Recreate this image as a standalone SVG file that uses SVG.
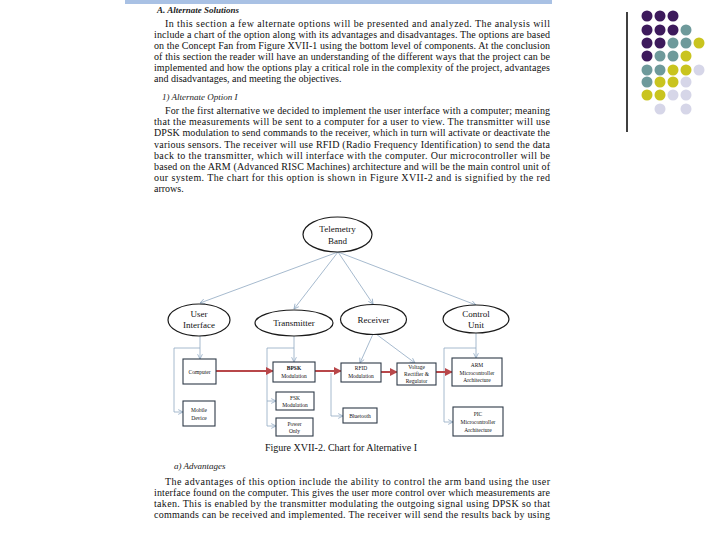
<svg xmlns="http://www.w3.org/2000/svg" width="720" height="540" viewBox="0 0 720 540">
<style>
.p{font-family:"Liberation Serif",serif;font-size:10px;fill:#111}
.h{font-family:"Liberation Serif",serif;font-size:9px;font-style:italic;fill:#222}
.el{fill:#fff;stroke:#1a1a1a;stroke-width:1.2}
.et{font-family:"Liberation Serif",serif;font-size:9px;fill:#111;text-anchor:middle}
.bx{fill:#fff;stroke:#2e3a48;stroke-width:1.1}
.bt{font-family:"Liberation Serif",serif;font-size:5.5px;fill:#111;text-anchor:middle}
.cn{fill:none;stroke:#8fa8c2;stroke-width:0.8}
.rd{fill:none;stroke:#b8474a;stroke-width:2}
</style>
<defs>
<marker id="ah" viewBox="0 0 10 10" refX="9" refY="5" markerWidth="6" markerHeight="6" orient="auto" markerUnits="userSpaceOnUse"><path d="M1,1 L9,5 L1,9" fill="none" stroke="#8fa8c2" stroke-width="1.3"/></marker>
<marker id="ra" viewBox="0 0 10 10" refX="9" refY="5" markerWidth="4" markerHeight="4" orient="auto"><path d="M0,0 L10,5 L0,10 z" fill="#b8474a"/></marker>
</defs>
<rect x="125" y="0" width="427" height="4" fill="#a9c1e4"/>
<g id="text">
<text class="h" x="157" y="13" font-weight="bold">A. Alternate Solutions</text>
<text class="p" x="165" y="26.5" textLength="385" lengthAdjust="spacing">In this section a few alternate options will be presented and analyzed. The analysis will</text>
<text class="p" x="154" y="37.6" textLength="396" lengthAdjust="spacing">include a chart of the option along with its advantages and disadvantages. The options are based</text>
<text class="p" x="154" y="48.7" textLength="396" lengthAdjust="spacing">on the Concept Fan from Figure XVII-1 using the bottom level of components. At the conclusion</text>
<text class="p" x="154" y="59.8" textLength="396" lengthAdjust="spacing">of this section the reader will have an understanding of the different ways that the project can be</text>
<text class="p" x="154" y="70.9" textLength="396" lengthAdjust="spacing">implemented and how the options play a critical role in the complexity of the project, advantages</text>
<text class="p" x="154" y="82">and disadvantages,  and meeting the objectives.</text>
<text class="h" x="162" y="100">1)  Alternate Option I</text>
<text class="p" x="165" y="114" textLength="385" lengthAdjust="spacing">For the first alternative we decided to implement the user interface with a computer; meaning</text>
<text class="p" x="154" y="125.2" textLength="396" lengthAdjust="spacing">that the measurements will be sent to a computer for a user to view. The transmitter will use</text>
<text class="p" x="154" y="136.4" textLength="396" lengthAdjust="spacing">DPSK modulation to send commands to the receiver, which in turn will activate or deactivate the</text>
<text class="p" x="154" y="147.6" textLength="396" lengthAdjust="spacing">various sensors. The receiver will use RFID (Radio Frequency Identification) to send the data</text>
<text class="p" x="154" y="158.8" textLength="396" lengthAdjust="spacing">back to the transmitter, which will interface with the computer. Our microcontroller will be</text>
<text class="p" x="154" y="170" textLength="396" lengthAdjust="spacing">based on the ARM (Advanced RISC Machines) architecture and will be the main control unit of</text>
<text class="p" x="154" y="181.2" textLength="396" lengthAdjust="spacing">our system. The chart for this option is shown in Figure XVII-2 and is signified by the red</text>
<text class="p" x="154" y="192.4">arrows.</text>
<text class="p" x="341" y="451" text-anchor="middle" font-size="8.5">Figure XVII-2.  Chart for Alternative I</text>
<text class="h" x="174" y="469" font-size="8.5">a)  Advantages</text>
<text class="p" x="165" y="485" textLength="385" lengthAdjust="spacing">The advantages of this option include the ability to control the arm band using the user</text>
<text class="p" x="154" y="496" textLength="396" lengthAdjust="spacing">interface found on the computer. This gives the user more control over which measurements are</text>
<text class="p" x="154" y="507" textLength="396" lengthAdjust="spacing">taken. This is enabled by the transmitter modulating the outgoing signal using DPSK so that</text>
<text class="p" x="154" y="518" textLength="396" lengthAdjust="spacing">commands can be received and implemented. The receiver will send the results back by using</text>
</g>
<g id="connectors">
<path class="cn" d="M338,252 L200,303" marker-end="url(#ah)"/>
<path class="cn" d="M338,252 L294,309" marker-end="url(#ah)"/>
<path class="cn" d="M338,252 L373,304" marker-end="url(#ah)"/>
<path class="cn" d="M338,252 L476,305" marker-end="url(#ah)"/>
<path class="cn" d="M200,336 L200,359" marker-end="url(#ah)"/>
<path class="cn" d="M200,348 L174,348 L174,412 L183,412" marker-end="url(#ah)"/>
<path class="cn" d="M294,336 L294,362" marker-end="url(#ah)"/>
<path class="cn" d="M294,348 L267,348 L267,426 L276,426" marker-end="url(#ah)"/>
<path class="cn" d="M267,401 L276,401" marker-end="url(#ah)"/>
<path class="cn" d="M373,334 L360,363" marker-end="url(#ah)"/>
<path class="cn" d="M376,334 L415,363" marker-end="url(#ah)"/>
<path class="cn" d="M476,333 L476,358" marker-end="url(#ah)"/>
<path class="cn" d="M476,348 L444,348 L444,422 L453,422" marker-end="url(#ah)"/>
<path class="cn" d="M331,373 L331,416 L343,416" marker-end="url(#ah)"/>
<path class="rd" d="M216,371 L273,371" marker-end="url(#ra)"/>
<path class="rd" d="M315,371 L341,371" marker-end="url(#ra)"/>
<path class="rd" d="M381,372 L397,372" marker-end="url(#ra)"/>
<path class="rd" d="M436,372 L452,372" marker-end="url(#ra)"/>
</g>
<g id="telemetry"><ellipse class="el" cx="337.5" cy="234.5" rx="34.5" ry="17.5"/><text class="et" x="337.5" y="232">Telemetry</text><text class="et" x="337.5" y="243.5">Band</text></g>
<g id="user-interface"><ellipse class="el" cx="199" cy="320" rx="31" ry="16"/><text class="et" x="199" y="317" font-family="Liberation Sans, sans-serif" font-size="8">User</text><text class="et" x="199" y="328" font-family="Liberation Sans, sans-serif" font-size="8">Interface</text></g>
<g id="transmitter"><ellipse class="el" cx="294" cy="323" rx="39" ry="13"/><text class="et" x="294" y="326">Transmitter</text></g>
<g id="receiver"><ellipse class="el" cx="373.5" cy="319.5" rx="33" ry="15"/><text class="et" x="373.5" y="322.5">Receiver</text></g>
<g id="control-unit"><ellipse class="el" cx="476" cy="319" rx="33" ry="14"/><text class="et" x="476" y="317">Control</text><text class="et" x="476" y="328">Unit</text></g>
<g id="computer"><rect class="bx" x="183" y="359" width="33" height="25"/><text class="bt" x="199.5" y="373.5">Computer</text></g>
<g id="mobile"><rect class="bx" x="183" y="401" width="32" height="25"/><text class="bt" x="199" y="411.5">Mobile</text><text class="bt" x="199" y="419.5">Device</text></g>
<g id="bpsk"><rect class="bx" x="273" y="362" width="42" height="20"/><text class="bt" x="294" y="369.5" font-weight="bold">BPSK</text><text class="bt" x="294" y="377.5">Modulation</text></g>
<g id="fsk"><rect class="bx" x="276" y="392" width="38" height="18"/><text class="bt" x="295" y="399.5">FSK</text><text class="bt" x="295" y="407">Modulation</text></g>
<g id="power"><rect class="bx" x="276" y="418" width="37" height="18"/><text class="bt" x="294.5" y="425.5">Power</text><text class="bt" x="294.5" y="433">Only</text></g>
<g id="rfid"><rect class="bx" x="341" y="363" width="40" height="19"/><text class="bt" x="361" y="370">RFID</text><text class="bt" x="361" y="378">Modulation</text></g>
<g id="bluetooth"><rect class="bx" x="343" y="408" width="34" height="15"/><text class="bt" x="360" y="417.5">Bluetooth</text></g>
<g id="voltage"><rect class="bx" x="397" y="363" width="39" height="22"/><text class="bt" x="416.5" y="368.5">Voltage</text><text class="bt" x="416.5" y="375.5">Rectifier  &amp;</text><text class="bt" x="416.5" y="382.5">Regulator</text></g>
<g id="arm"><rect class="bx" x="452" y="358" width="50" height="28"/><text class="bt" x="477" y="367">ARM</text><text class="bt" x="477" y="374.5">Microcontroller</text><text class="bt" x="477" y="382">Architecture</text></g>
<g id="pic"><rect class="bx" x="453" y="407" width="50" height="29"/><text class="bt" x="478" y="416">PIC</text><text class="bt" x="478" y="424">Microcontroller</text><text class="bt" x="478" y="431.5">Architecture</text></g>
<g id="decoration">
<line x1="627" y1="12" x2="627" y2="132" stroke="#000" stroke-width="1.5"/>
<g fill="#3d1a5c">
<circle cx="647" cy="16" r="5.5"/><circle cx="660" cy="16" r="5.5"/><circle cx="673" cy="16" r="5.5"/>
<circle cx="647" cy="30" r="5.5"/><circle cx="660" cy="30" r="5.5"/><circle cx="673" cy="30" r="5.5"/>
<circle cx="647" cy="43" r="5.5"/><circle cx="660" cy="43" r="5.5"/>
<circle cx="647" cy="56" r="5.5"/>
</g>
<g fill="#6e9a9b">
<circle cx="686" cy="30" r="5.5"/>
<circle cx="673" cy="43" r="5.5"/><circle cx="686" cy="43" r="5.5"/>
<circle cx="660" cy="56" r="5.5"/><circle cx="673" cy="56" r="5.5"/>
<circle cx="647" cy="70" r="5.5"/><circle cx="660" cy="70" r="5.5"/>
<circle cx="647" cy="82" r="5.5"/>
</g>
<g fill="#c9c41f">
<circle cx="699" cy="43" r="5.5"/>
<circle cx="686" cy="56" r="5.5"/>
<circle cx="673" cy="70" r="5.5"/><circle cx="686" cy="70" r="5.5"/>
<circle cx="660" cy="82" r="5.5"/><circle cx="673" cy="82" r="5.5"/>
<circle cx="647" cy="95" r="5.5"/><circle cx="660" cy="95" r="5.5"/>
</g>
<g fill="#d6d6e8">
<circle cx="699" cy="70" r="5.5"/>
<circle cx="686" cy="82" r="5.5"/>
<circle cx="673" cy="95" r="5.5"/><circle cx="686" cy="95" r="5.5"/>
<circle cx="660" cy="109" r="5.5"/><circle cx="686" cy="109" r="5.5"/>
</g>
</g>
</svg>
